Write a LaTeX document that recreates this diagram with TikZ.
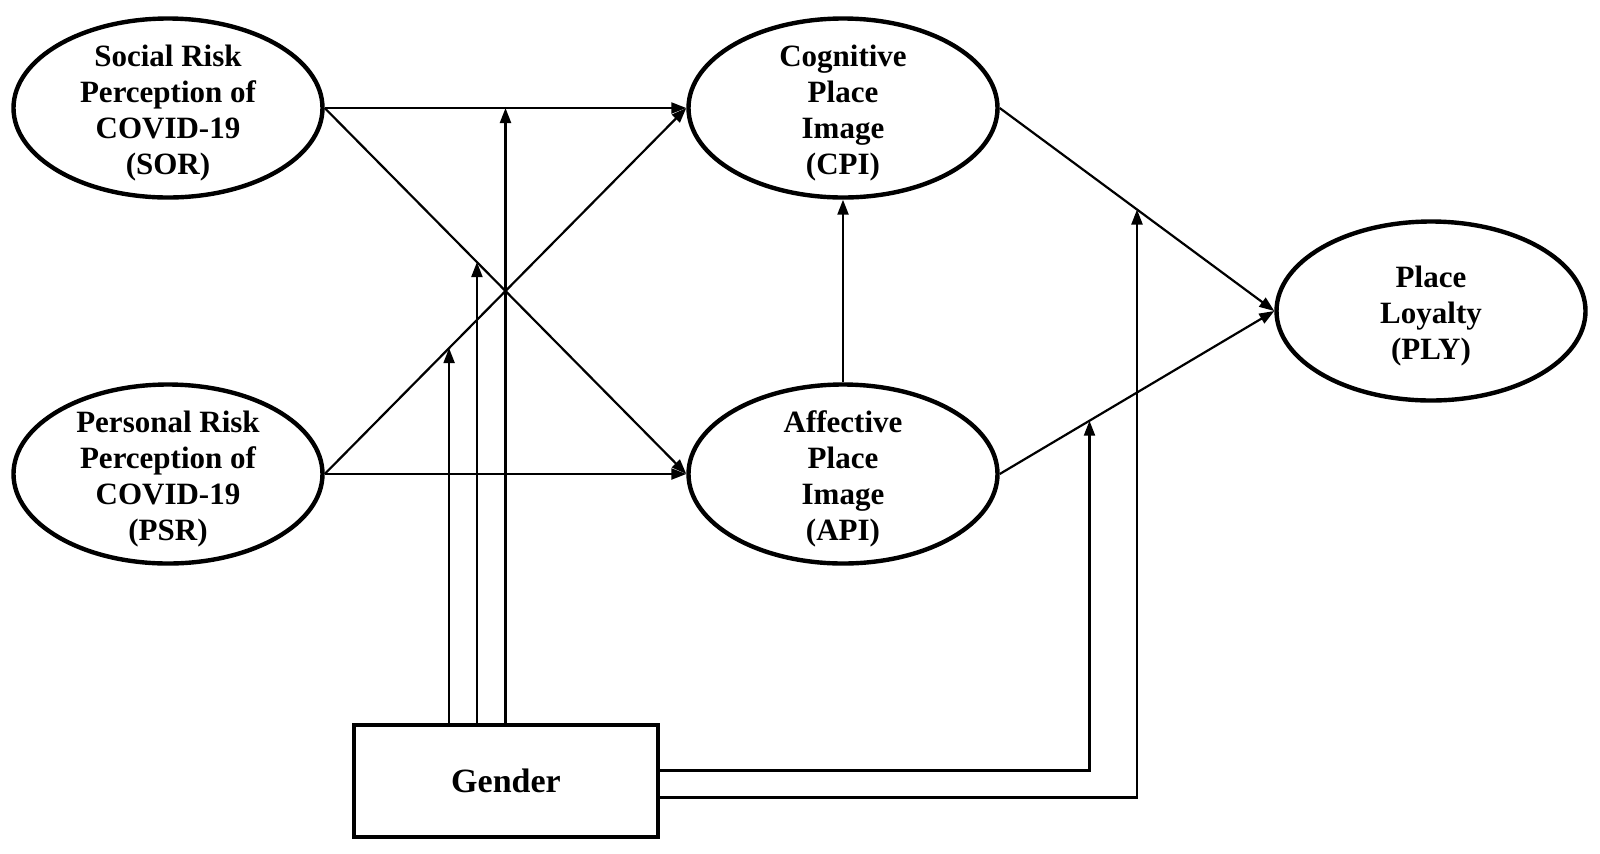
\documentclass[tikz,border=0pt]{standalone}
\usepackage{fontspec}
\setmainfont{Liberation Serif}
\usetikzlibrary{shapes.geometric,arrows.meta,calc}

\tikzset{every picture/.style={line width=1.1pt}}
\tikzset{
  construct/.style={draw, ellipse, line width=2.2pt, minimum width=154.5pt, minimum height=89.5pt, inner sep=0pt},
  constext/.style={align=center, inner sep=0pt, yshift=-2.5pt, font=\fontsize{15.5}{18}\selectfont\bfseries},
  groupbox/.style={draw, rectangle, line width=2pt, minimum width=152pt, minimum height=56pt, font=\fontsize{17}{20}\selectfont\bfseries},
  link/.style={-{Triangle[length=7.5pt,width=5.5pt]}}
}

\begin{document}
\begin{tikzpicture}[x=0.5pt,y=0.5pt,yscale=-1,xscale=1]
\useasboundingbox (0,0) rectangle (1600,853);

%Shape: Ellipse [SOR]
\node[construct] (sor) at (168,108) {};
\node[constext] (sor-t) at (sor) {Social Risk\\Perception of\\COVID-19\\(SOR)};
%Shape: Ellipse [PSR]
\node[construct] (psr) at (168,474) {};
\node[constext] (psr-t) at (psr) {Personal Risk\\Perception of\\COVID-19\\(PSR)};
%Shape: Ellipse [CPI]
\node[construct] (cpi) at (843,108) {};
\node[constext] (cpi-t) at (cpi) {Cognitive\\Place\\Image\\(CPI)};
%Shape: Ellipse [API]
\node[construct] (api) at (843,474) {};
\node[constext] (api-t) at (api) {Affective\\Place\\Image\\(API)};
%Shape: Ellipse [PLY]
\node[construct] (ply) at (1431,311) {};
\node[constext] (ply-t) at (ply) {Place\\Loyalty\\(PLY)};
%Shape: Rectangle [Gender]
\node[groupbox] (gender) at (506,781) {Gender};

%Straight Lines: paths
\draw[link] (sor.east) -- coordinate[pos=0.5] (m3) (cpi.west);
\draw[link] (sor.east) -- coordinate[pos=0.421] (m2) (api.west);
\draw[link] (psr.east) -- coordinate[pos=0.344] (m1) (cpi.west);
\draw[link] (psr.east) -- (api.west);
\draw[link] (api.north) -- (cpi.south);
\draw[link] (cpi.east) -- coordinate[pos=0.5] (m5) (ply.west);
\draw[link] (api.east) -- coordinate[pos=0.327] (m4) (ply.west);

%Straight Lines: moderation by gender
\draw[link] (m1 |- gender.north) -- (m1);
\draw[link] (m2 |- gender.north) -- (m2);
\draw[link] (m3 |- gender.north) -- (m3);
\draw[link] ($(gender.east)+(0,-10.5)$) -| (m4);
\draw[link] ($(gender.east)+(0,16.5)$) -| (m5);

\end{tikzpicture}
\end{document}
